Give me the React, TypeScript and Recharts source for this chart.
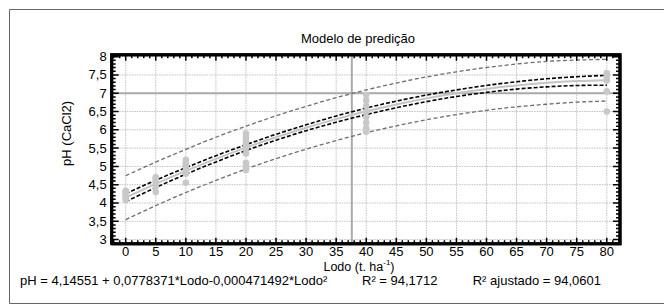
import React from 'react';
import { ComposedChart, Line, Scatter, XAxis, YAxis, ReferenceLine } from 'recharts';

// ---- data ----
const lodo = [0, 5, 10, 15, 20, 25, 30, 35, 40, 45, 50, 55, 60, 65, 70, 75, 80];
const fitPH = [4.146, 4.523, 4.877, 5.207, 5.514, 5.797, 6.056, 6.292, 6.505, 6.693, 6.859, 7.0, 7.118, 7.213, 7.284, 7.331, 7.355];
const confUpper = [4.256, 4.623, 4.967, 5.292, 5.594, 5.877, 6.136, 6.377, 6.595, 6.783, 6.949, 7.09, 7.213, 7.313, 7.394, 7.451, 7.49];
const confLower = [4.036, 4.423, 4.787, 5.122, 5.434, 5.717, 5.976, 6.207, 6.415, 6.603, 6.769, 6.91, 7.023, 7.113, 7.174, 7.211, 7.22];
const predUpper = [4.746, 5.118, 5.467, 5.797, 6.099, 6.382, 6.641, 6.877, 7.09, 7.278, 7.444, 7.585, 7.703, 7.798, 7.869, 7.906, 7.925];
const predLower = [3.546, 3.928, 4.287, 4.617, 4.929, 5.212, 5.471, 5.707, 5.92, 6.108, 6.274, 6.415, 6.533, 6.628, 6.699, 6.756, 6.785];

const obsLodo = [0, 0, 0, 0, 0, 0, 5, 5, 5, 5, 5, 5, 10, 10, 10, 10, 10, 10, 10, 20, 20, 20, 20, 20, 20, 20, 20, 20, 40, 40, 40, 40, 40, 40, 40, 40, 80, 80, 80, 80, 80, 80];
const obsPH = [4.08, 4.15, 4.2, 4.25, 4.3, 4.33, 4.3, 4.45, 4.55, 4.6, 4.65, 4.7, 4.55, 4.8, 4.9, 5.0, 5.05, 5.1, 5.18, 4.9, 5.0, 5.1, 5.35, 5.5, 5.6, 5.7, 5.8, 5.9, 5.95, 6.05, 6.2, 6.35, 6.5, 6.65, 6.8, 6.95, 6.5, 7.05, 7.35, 7.45, 7.5, 7.55];

const xMajorTicks = [0, 5, 10, 15, 20, 25, 30, 35, 40, 45, 50, 55, 60, 65, 70, 75, 80];
const yMajorTicks = [3, 3.5, 4, 4.5, 5, 5.5, 6, 6.5, 7, 7.5, 8];
const targetPH = 7;
const targetLodo = 37.6;

const xDomain: [number, number] = [-2.33, 82.2];
const yDomain: [number, number] = [2.885, 8.05];

// plot geometry (layout only)
const PLOT_LEFT = 111.7;
const PLOT_RIGHT = 620;
const PLOT_TOP = 54.8;
const PLOT_BOTTOM = 243.8;
const sx = (v: number) => PLOT_LEFT + ((v - xDomain[0]) * (PLOT_RIGHT - PLOT_LEFT)) / (xDomain[1] - xDomain[0]);
const sy = (v: number) => PLOT_BOTTOM - ((v - yDomain[0]) * (PLOT_BOTTOM - PLOT_TOP)) / (yDomain[1] - yDomain[0]);

const xMinorTicks: number[] = [];
for (let v = -2; v <= 82; v += 1) if (!xMajorTicks.includes(v)) xMinorTicks.push(v);
const yMinorTicks: number[] = [];
for (let i = 29; i <= 80; i += 1) {
  const v = i / 10;
  if (!yMajorTicks.some((t) => Math.abs(t - v) < 1e-6)) yMinorTicks.push(v);
}

const lineData = lodo.map((x, i) => ({
  x,
  fit: fitPH[i],
  cu: confUpper[i],
  cl: confLower[i],
  pu: predUpper[i],
  pl: predLower[i],
}));
const scatterData = obsLodo.map((x, i) => ({ x, y: obsPH[i] }));

const frameData = [
  { x: xDomain[0], f: yDomain[0] },
  { x: xDomain[1], f: yDomain[0] },
  { x: xDomain[1], f: yDomain[1] },
  { x: xDomain[0], f: yDomain[1] },
  { x: xDomain[0], f: yDomain[0] },
];

const FONT = '"Liberation Sans", Arial, Helvetica, sans-serif';
const fmt = (v: number) => String(v).replace('.', ',');

const renderBottomTick = (props: any) => {
  const { x, y, payload } = props;
  return (
    <text x={x} y={y} textAnchor="middle" dominantBaseline="central" fontSize={13} fontFamily={FONT} fill="#000">
      {fmt(payload.value)}
    </text>
  );
};

const renderLeftTick = (props: any) => {
  const { x, y, payload } = props;
  return (
    <text x={x + 3} y={y} textAnchor="end" dominantBaseline="central" fontSize={13} fontFamily={FONT} fill="#000">
      {fmt(payload.value)}
    </text>
  );
};

const Dot = (props: any) => {
  const { cx, cy } = props;
  return <circle cx={cx} cy={cy} r={3.3} fill="#c8c8c8" />;
};

const f1 = (n: number) => n.toFixed(2);

const gridPath =
  xMajorTicks.map((v) => `M${f1(sx(v))},${f1(PLOT_TOP)}V${f1(PLOT_BOTTOM)}`).join('') +
  yMajorTicks.map((v) => `M${f1(PLOT_LEFT)},${f1(sy(v))}H${f1(PLOT_RIGHT)}`).join('');

const xTickPath = (vals: number[], len: number) =>
  vals
    .map((v) => `M${f1(sx(v))},${f1(PLOT_BOTTOM)}V${f1(PLOT_BOTTOM - len)}M${f1(sx(v))},${f1(PLOT_TOP)}V${f1(PLOT_TOP + len)}`)
    .join('');
const yTickPath = (vals: number[], len: number) =>
  vals
    .map((v) => `M${f1(PLOT_LEFT)},${f1(sy(v))}H${f1(PLOT_LEFT + len)}M${f1(PLOT_RIGHT)},${f1(sy(v))}H${f1(PLOT_RIGHT - len)}`)
    .join('');
const ticksPath = xTickPath(xMajorTicks, 6) + xTickPath(xMinorTicks, 3.5) + yTickPath(yMajorTicks, 7) + yTickPath(yMinorTicks, 4);

export default function App() {
  return (
    <div style={{ position: 'fixed', left: 0, top: 0, width: 664, height: 307, background: '#fff' }}>
      <svg width={664} height={307} style={{ position: 'absolute', left: 0, top: 0 }}>
        <path d={gridPath} fill="none" stroke="#c0c0c0" strokeWidth={1} strokeDasharray="1.5 1" />
      </svg>
      <ComposedChart width={664} height={307} margin={{ left: PLOT_LEFT - 60, right: 664 - PLOT_RIGHT, top: PLOT_TOP, bottom: 307 - PLOT_BOTTOM - 30 }}>
        <XAxis
          xAxisId="b"
          type="number"
          dataKey="x"
          domain={xDomain}
          ticks={xMajorTicks}
          interval={0}
          height={30}
          tickLine={false}
          axisLine={false}
          tick={renderBottomTick}
        />
        <YAxis
          yAxisId="l"
          type="number"
          dataKey="y"
          domain={yDomain}
          ticks={yMajorTicks}
          interval={0}
          width={60}
          tickLine={false}
          axisLine={false}
          tick={renderLeftTick}
        />

        <ReferenceLine xAxisId="b" yAxisId="l" y={targetPH} stroke="#aaaaaa" strokeWidth={2} />
        <ReferenceLine xAxisId="b" yAxisId="l" x={targetLodo} stroke="#aaaaaa" strokeWidth={2} />

        <Scatter xAxisId="b" yAxisId="l" data={scatterData} shape={<Dot />} isAnimationActive={false} />

        <Line xAxisId="b" yAxisId="l" data={lineData} dataKey="pu" type="monotone" stroke="#6e6e6e" strokeWidth={1.3} strokeDasharray="4 2.5" dot={false} isAnimationActive={false} />
        <Line xAxisId="b" yAxisId="l" data={lineData} dataKey="pl" type="monotone" stroke="#6e6e6e" strokeWidth={1.3} strokeDasharray="4 2.5" dot={false} isAnimationActive={false} />
        <Line xAxisId="b" yAxisId="l" data={lineData} dataKey="fit" type="monotone" stroke="#c4c4c4" strokeWidth={2} dot={false} isAnimationActive={false} />
        <Line xAxisId="b" yAxisId="l" data={lineData} dataKey="cu" type="monotone" stroke="#000" strokeWidth={1.6} strokeDasharray="4 2" dot={false} isAnimationActive={false} />
        <Line xAxisId="b" yAxisId="l" data={lineData} dataKey="cl" type="monotone" stroke="#000" strokeWidth={1.6} strokeDasharray="4 2" dot={false} isAnimationActive={false} />
        <Line xAxisId="b" yAxisId="l" data={frameData} dataKey="f" type="linear" stroke="#000" strokeWidth={3} dot={false} isAnimationActive={false} />
      </ComposedChart>
      <svg width={664} height={307} style={{ position: 'absolute', left: 0, top: 0, pointerEvents: 'none' }}>
        <path d={ticksPath} fill="none" stroke="#000" strokeWidth={1.5} />
        <rect x={PLOT_LEFT} y={PLOT_TOP} width={PLOT_RIGHT - PLOT_LEFT} height={PLOT_BOTTOM - PLOT_TOP} fill="none" stroke="#000" strokeWidth={3} />
        <path d="M 9.5 303.5 L 9.5 9.5 L 664 9.5" fill="none" stroke="#666" strokeWidth={1} />
        <path d="M 9.5 303.5 L 664 303.5" fill="none" stroke="#666" strokeWidth={1} />
        <text x={358} y={38} textAnchor="middle" dominantBaseline="central" fontSize={13} fontFamily={FONT} fill="#000">
          Modelo de predição
        </text>
        <text
          x={66.7}
          y={133.4}
          textAnchor="middle"
          dominantBaseline="central"
          fontSize={13}
          fontFamily={FONT}
          fill="#000"
          transform="rotate(-90 66.7 133.4)"
        >
          pH (CaCl2)
        </text>
        <text x={359} y={266.5} textAnchor="middle" dominantBaseline="central" fontSize={12.5} fontFamily={FONT} fill="#000">
          Lodo (t. ha
          <tspan fontSize={8} dy={-5}>-1</tspan>
          <tspan dy={5}>)</tspan>
        </text>
        <text x={20} y={280.5} dominantBaseline="central" fontSize={13} fontFamily={FONT} fill="#000">
          pH = 4,14551 + 0,0778371*Lodo-0,000471492*Lodo²
        </text>
        <text x={362} y={280.5} dominantBaseline="central" fontSize={13} fontFamily={FONT} fill="#000">
          R² = 94,1712
        </text>
        <text x={601} y={280.5} textAnchor="end" dominantBaseline="central" fontSize={13} fontFamily={FONT} fill="#000">
          R² ajustado = 94,0601
        </text>
      </svg>
    </div>
  );
}
